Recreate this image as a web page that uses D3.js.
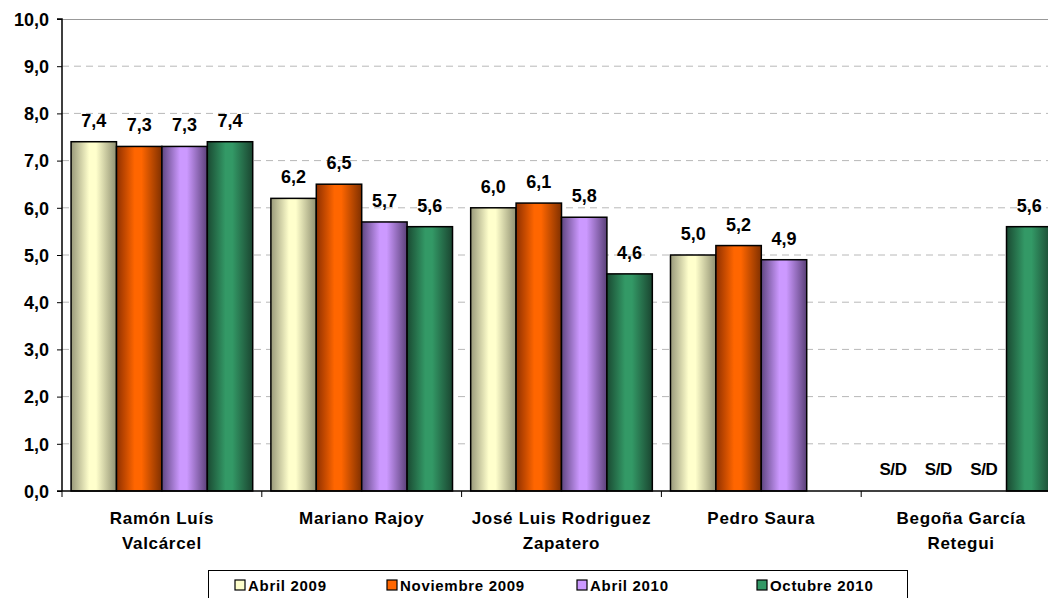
<!DOCTYPE html>
<html><head><meta charset="utf-8">
<script src="https://cdn.jsdelivr.net/npm/d3@7"></script>
<style>body{margin:0;background:#fff}svg{display:block;font-family:"Liberation Sans",Arial,sans-serif;font-weight:bold}</style>
</head><body><svg id="c" width="1048" height="598"></svg>
<script>
const categories = [["Ramón Luís","Valcárcel"],["Mariano Rajoy"],["José Luis Rodriguez","Zapatero"],["Pedro Saura"],["Begoña García","Retegui"]];
const seriesNames = ["Abril 2009","Noviembre 2009","Abril 2010","Octubre 2010"];
const abril2009 = [7.4, 6.2, 6.0, 5.0, "S/D"];
const noviembre2009 = [7.3, 6.5, 6.1, 5.2, "S/D"];
const abril2010 = [7.3, 5.7, 5.8, 4.9, "S/D"];
const octubre2010 = [7.4, 5.6, 4.6, null, 5.6];
const yTicks = [0,1,2,3,4,5,6,7,8,9,10];
const colors = [
  ["#99997a","#ffffcc","#8f8f70"],
  ["#8f3000","#ff6600","#803000"],
  ["#5f4680","#cc99ff","#5a4078"],
  ["#1a4a32","#339966","#1a4530"]
];
const seriesData = [abril2009, noviembre2009, abril2010, octubre2010];

const svg = d3.select("#c");
const mLeft = 62, mTop = 19, mBottom = 491, catW = 199.8;
const y = d3.scaleLinear().domain([0,10]).range([mBottom, mTop]);
const x0 = d3.scaleBand().domain(d3.range(categories.length)).range([mLeft, mLeft + catW*categories.length]);
const x1 = d3.scaleBand().domain(d3.range(seriesNames.length)).range([0, x0.bandwidth()]).paddingInner(0).paddingOuter(0.2);

const defs = svg.append("defs");
colors.forEach((c,i)=>{
  const g = defs.append("linearGradient").attr("id","g"+i).attr("x1","0").attr("x2","1").attr("y1","0").attr("y2","0");
  g.append("stop").attr("offset","0").attr("stop-color",c[0]);
  g.append("stop").attr("offset","0.4").attr("stop-color",c[1]);
  g.append("stop").attr("offset","0.55").attr("stop-color",c[1]);
  g.append("stop").attr("offset","1").attr("stop-color",c[2]);
});

// grid
svg.append("g").selectAll("line").data(yTicks.filter(t=>t>0&&t<10)).join("line")
  .attr("x1",mLeft).attr("x2",1048).attr("y1",d=>y(d)).attr("y2",d=>y(d))
  .attr("stroke","#b8b8b8").attr("stroke-dasharray","7,5").attr("stroke-width",1);
svg.append("line").attr("x1",mLeft).attr("x2",1048).attr("y1",y(10)+0.5).attr("y2",y(10)+0.5).attr("stroke","#999").attr("stroke-width",1);

// bars
seriesData.forEach((arr,si)=>{
  const g = svg.append("g");
  arr.forEach((v,ci)=>{
    const bx = x0(ci) + x1(si);
    if (typeof v === "number") {
      g.append("rect").attr("x",bx).attr("y",y(v)).attr("width",x1.bandwidth()).attr("height",y(0)-y(v))
        .attr("fill","url(#g"+si+")").attr("stroke","#000").attr("stroke-width",1.5);
      g.append("text").attr("x",bx+x1.bandwidth()/2).attr("y",y(v)-15).attr("text-anchor","middle")
        .attr("font-size","18px").text(d3.format(".1f")(v).replace(".",","));
    } else if (v === "S/D") {
      g.append("text").attr("x",bx+x1.bandwidth()/2).attr("y",y(0)-16).attr("text-anchor","middle")
        .attr("font-size","17px").attr("letter-spacing","-0.4px").text("S/D");
    }
  });
});

// y axis
const ya = svg.append("g").attr("transform",`translate(${mLeft},0)`)
  .call(d3.axisLeft(y).tickValues(yTicks).tickSize(5).tickFormat(d=>d3.format(".1f")(d).replace(".",",")));
ya.select(".domain").attr("stroke","#000").attr("stroke-width",1.5).attr("d",`M-5,${mTop}H0V${mBottom}`);
ya.selectAll("text").attr("font-size","18px").attr("font-family","Liberation Sans, Arial, sans-serif").attr("font-weight","bold").attr("fill","#000").attr("x",-13).attr("dy","0.35em");
ya.selectAll(".tick line").attr("stroke","#000");

// x axis
svg.append("line").attr("x1",mLeft-5).attr("x2",1048).attr("y1",mBottom).attr("y2",mBottom).attr("stroke","#000").attr("stroke-width",1.5);
svg.append("g").selectAll("line").data(d3.range(categories.length+1)).join("line")
  .attr("x1",d=>mLeft+d*catW).attr("x2",d=>mLeft+d*catW).attr("y1",mBottom).attr("y2",mBottom+6).attr("stroke","#000");
const cl = svg.append("g");
categories.forEach((lines,ci)=>{
  const t = cl.append("text").attr("text-anchor","middle").attr("font-size","17px").attr("letter-spacing","0.7px");
  lines.forEach((ln,li)=>{
    t.append("tspan").attr("x",x0(ci)+x0.bandwidth()/2).attr("y",524+li*25).text(ln);
  });
});

// legend
svg.append("rect").attr("x",208.5).attr("y",570.5).attr("width",699).attr("height",40).attr("fill","#fff").attr("stroke","#000").attr("stroke-width",1);
const legX = [235, 387, 577, 757];
seriesNames.forEach((n,i)=>{
  svg.append("rect").attr("x",legX[i]).attr("y",580).attr("width",10).attr("height",10)
    .attr("fill",colors[i][1]).attr("stroke","#000").attr("stroke-width",1.2);
  svg.append("text").attr("x",legX[i]+13).attr("y",591).attr("font-size","15px").attr("letter-spacing","0.7px").text(n);
});
</script></body></html>
